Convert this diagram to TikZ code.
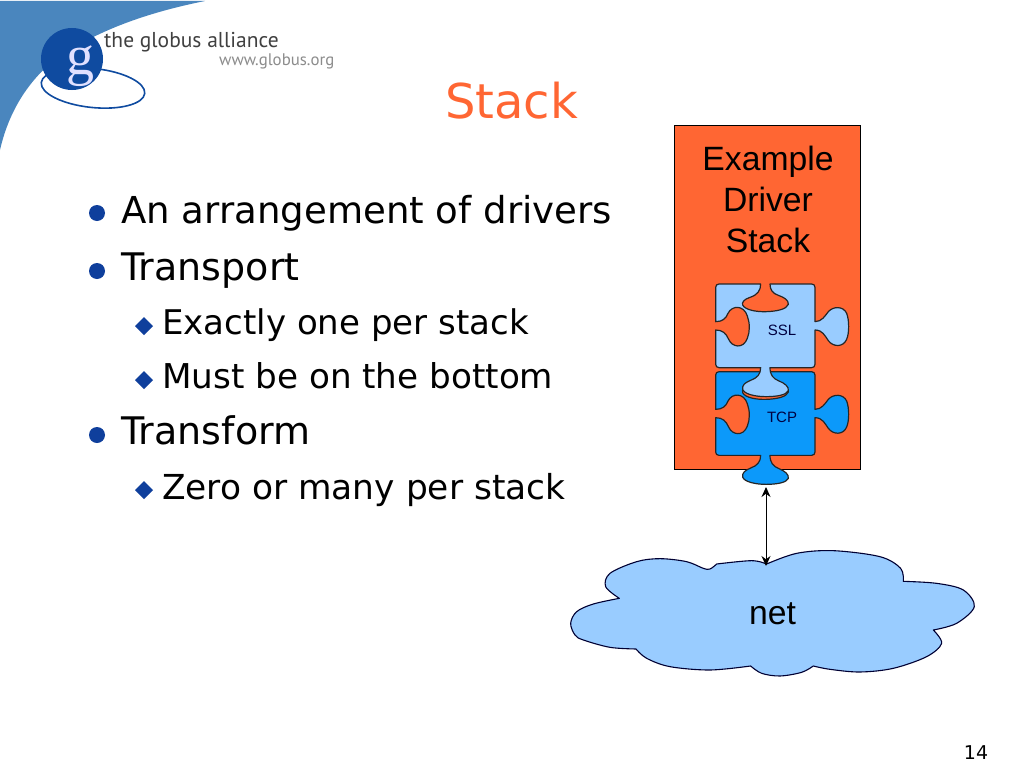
\documentclass[tikz,border=0pt]{standalone}
\usepackage{fontspec}
\setmainfont{DejaVu Sans}
\newfontfamily\arialf{Liberation Sans}
\newfontfamily\logof{PT Sans}
\newfontfamily\logog{Liberation Serif}
\usetikzlibrary{arrows.meta}
\definecolor{orangeS}{HTML}{FF6633}
\definecolor{lightB}{HTML}{99CCFF}
\definecolor{midB}{HTML}{0C99FA}
\definecolor{bulletB}{HTML}{0F3F9C}
\definecolor{swoosh}{HTML}{4A86BE}
\definecolor{gball}{HTML}{0F4BA0}
\newcommand{\fs}[1]{\fontsize{#1}{#1}\selectfont}
\newcommand{\piecepath}{
  (147,42) -- (272,42) .. controls (272,62) and (262,75) .. (240,82)
  .. controls (222,88) and (215,97) .. (218,105)
  .. controls (225,120) and (260,126) .. (288,125)
  .. controls (320,124) and (350,118) .. (355,103)
  .. controls (356,90) and (342,82) .. (325,76)
  .. controls (308,70) and (300,60) .. (300,42)
  -- (425,42) .. controls (431,42) and (435,46) .. (435,52)
  -- (435,155) .. controls (455,155) and (465,138) .. (475,125)
  .. controls (490,108) and (520,108) .. (530,130)
  .. controls (538,150) and (538,190) .. (530,208)
  .. controls (520,232) and (490,232) .. (475,212)
  .. controls (465,198) and (458,180) .. (435,180)
  -- (435,283) .. controls (435,289) and (431,293) .. (425,293)
  -- (300,293) .. controls (300,315) and (310,326) .. (325,332)
  .. controls (345,340) and (357,350) .. (355,362)
  .. controls (350,375) and (320,380) .. (288,380)
  .. controls (255,380) and (222,372) .. (218,358)
  .. controls (216,345) and (225,338) .. (242,331)
  .. controls (262,324) and (272,312) .. (272,293)
  -- (147,293) .. controls (141,293) and (137,289) .. (137,283)
  -- (137,180) .. controls (158,180) and (168,190) .. (176,208)
  .. controls (186,232) and (220,238) .. (232,205)
  .. controls (240,185) and (240,160) .. (232,138)
  .. controls (222,105) and (186,105) .. (174,130)
  .. controls (168,145) and (158,155) .. (137,155)
  -- (137,52) .. controls (137,46) and (141,42) .. (147,42) -- cycle}
\tikzset{
  bodytext/.style={anchor=base west,inner sep=0pt,text=black},
  roundbullet/.style={circle,fill=bulletB,minimum size=16pt,inner sep=0pt},
  diamondbullet/.style={fill=bulletB,draw=none},
  puzzle/.style={draw=black!85,line width=1.2pt,line join=round},
  piecelabel/.style={font=\arialf\fs{15},text=black!75!blue,inner sep=0pt},
  stacklabel/.style={anchor=base,inner sep=0pt,font=\arialf\fs{33.7},text=black},
}
\begin{document}
\begin{tikzpicture}[x=1pt,y=-1pt]
\useasboundingbox[fill=white] (0,0) rectangle (1024,768);
% logo
\fill[swoosh] (0,1) -- (205,1) .. controls (140,14) and (90,34) .. (52,62)
  .. controls (25,85) and (8,115) .. (0,150) -- cycle;
\draw[gball,line width=1.6pt,rotate around={-6:(93,88)}] (93,88) ellipse [x radius=52,y radius=19.5];
\fill[gball] (72,59) circle [radius=31];
\node[inner sep=0pt,text=white!88!blue,font=\logog\fs{56}] (logog) at (80,66) {g};
\node[anchor=base west,inner sep=0pt,text=black!75,font=\logof\fs{21.5}] (logoa) at (104,48) {the globus alliance};
\node[anchor=base west,inner sep=0pt,text=black!45,font=\logof\fs{16.8}] (logob) at (219,66) {www.globus.org};
% title
\node[anchor=base,inner sep=0pt,text=orangeS,font=\fs{48}] (title) at (511.5,118) {Stack};
% bullets
\node[roundbullet] (b1) at (97,213) {};
\node[bodytext,font=\fs{37.1}] (t1) at (121,223) {An arrangement of drivers};
\node[roundbullet] (b2) at (97,271) {};
\node[bodytext,font=\fs{38}] (t2) at (121,280) {Transport};
\fill[diamondbullet] (135,326) -- (144,317) -- (153,326) -- (144,335) -- cycle;
\node[bodytext,font=\fs{34}] (t3) at (162,334) {Exactly one per stack};
\fill[diamondbullet] (135,380) -- (144,371) -- (153,380) -- (144,389) -- cycle;
\node[bodytext,font=\fs{34.2}] (t4) at (162,388) {Must be on the bottom};
\node[roundbullet] (b3) at (97,435) {};
\node[bodytext,font=\fs{38}] (t5) at (121,444) {Transform};
\fill[diamondbullet] (135,490) -- (144,481) -- (153,490) -- (144,499) -- cycle;
\node[bodytext,font=\fs{34.4}] (t6) at (162,499) {Zero or many per stack};
% stack box
\node[draw=black,line width=0.8pt,fill=orangeS,minimum width=186pt,minimum height=344pt,inner sep=0pt,anchor=north west] (stackbox) at (674,125) {};
\node[stacklabel] (s1) at (768,170) {Example};
\node[stacklabel] (s2) at (768,211) {Driver};
\node[stacklabel] (s3) at (768,252) {Stack};
% puzzle pieces
\begin{scope}[shift={(670,357.7)},x=0.3333pt,y=-0.3333pt]
\filldraw[puzzle,fill=midB] \piecepath;
\end{scope}
\begin{scope}[shift={(670,270)},x=0.3333pt,y=-0.3333pt]
\filldraw[puzzle,fill=lightB] \piecepath;
\end{scope}
\node[piecelabel] (ssl) at (782,330) {SSL};
\node[piecelabel] (tcp) at (782,417) {TCP};
% cloud
\begin{scope}[shift={(560,540)},x=0.3333pt,y=-0.3333pt]
\filldraw[draw=black!80!blue,line width=1.1pt,fill=lightB,line join=round]
  plot[smooth,tension=0.55] coordinates {(178,175) (100,192) (50,215) (32,250) (45,285) (70,300) (150,322) (228,327)}
  -- plot[smooth,tension=0.55] coordinates {(228,327) (260,355) (330,380) (450,390) (572,378)}
  -- plot[smooth,tension=0.55] coordinates {(572,378) (605,400) (660,408) (725,397) (760,378)}
  -- plot[smooth,tension=0.55] coordinates {(760,378) (810,388) (900,396) (1000,385) (1100,350) (1145,310) (1120,270)}
  -- plot[smooth,tension=0.55] coordinates {(1120,270) (1190,250) (1243,200) (1210,150) (1130,130) (1030,124)}
  -- plot[smooth,tension=0.55] coordinates {(1030,124) (1022,85) (960,50) (820,32) (710,40) (620,72)}
  -- plot[smooth,tension=0.55] coordinates {(620,72) (575,62) (470,72)}
  -- plot[smooth,tension=0.55] coordinates {(470,72) (450,87) (430,85) (380,65) (300,56) (230,65) (150,100) (137,140) (178,175)}
  -- cycle;
\end{scope}
\node[inner sep=0pt,anchor=base,font=\arialf\fs{33.7},text=black] (net) at (772.5,624) {net};
% connector
\coordinate (tcpend) at (766,487);
\coordinate (netend) at (766,566);
\draw[{Stealth[length=10pt,width=9pt]}-{Stealth[length=10pt,width=9pt]},line width=1pt,black] (tcpend) -- (netend);
% page number
\node[anchor=base,inner sep=0pt,font=\fs{19},text=black] (pg) at (976,759) {14};
\end{tikzpicture}
\end{document}
